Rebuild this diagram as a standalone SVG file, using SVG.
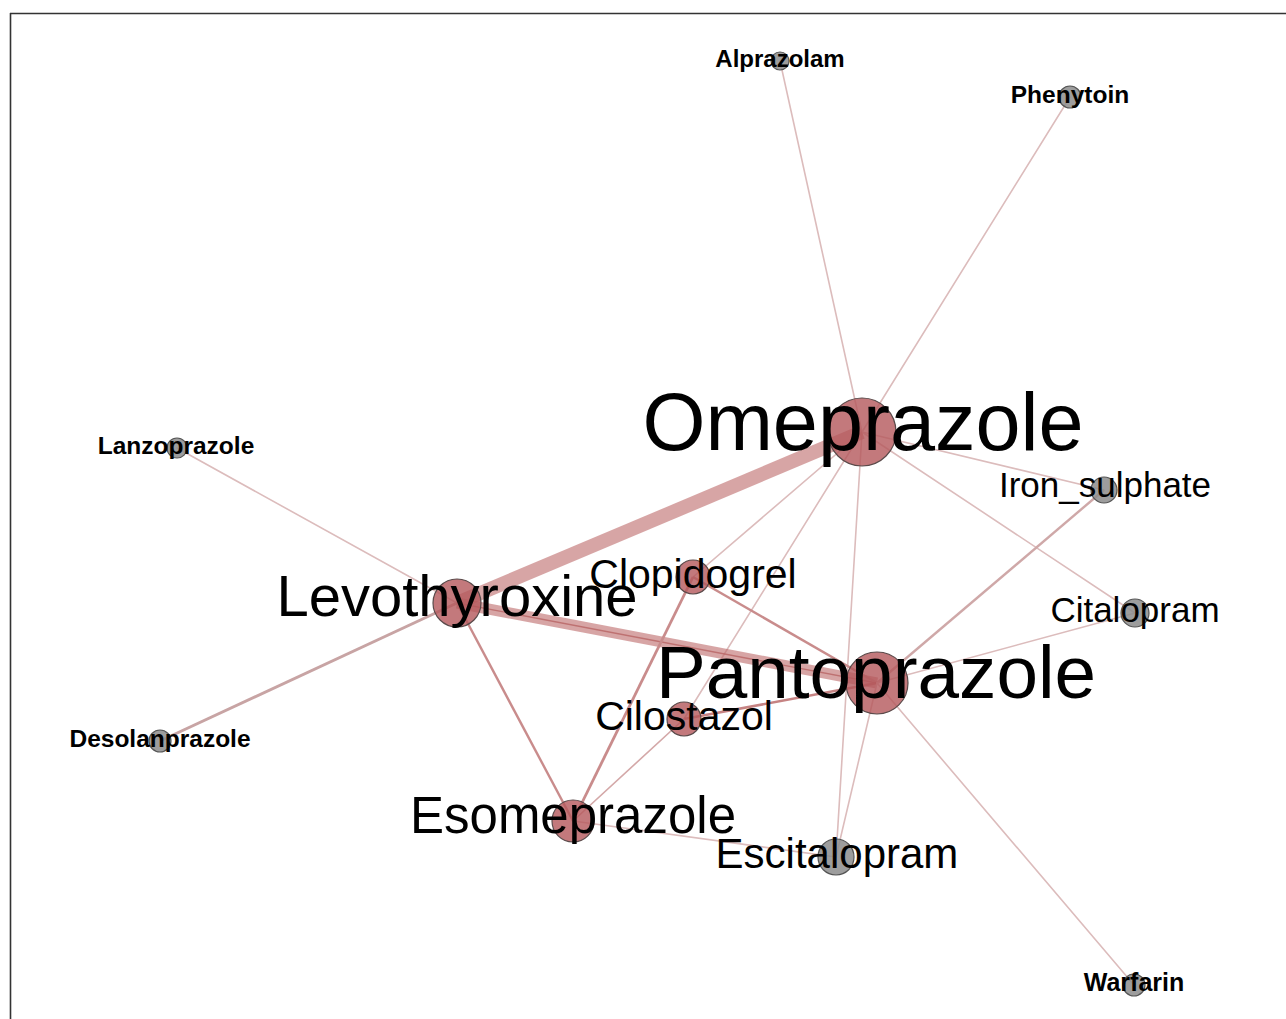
<svg xmlns="http://www.w3.org/2000/svg" width="1286" height="1019" viewBox="0 0 1286 1019">
<style>
.e{stroke:#dcbcbc;stroke-width:1.6;fill:none;stroke-linecap:round}
.em{stroke:#c98c8c;stroke-width:2.4;fill:none}
.ed{stroke:#b86464;stroke-width:2.6;fill:none;opacity:.8}
.et{stroke:#bf6e6e;fill:none;opacity:.62}
.nr{fill:#b4585b;fill-opacity:.8;stroke:#5a4a4a;stroke-width:1.2}
.ng{fill:#8c8c8c;fill-opacity:.85;stroke:#555;stroke-width:1.2}
text{font-family:"Liberation Sans",Arial,sans-serif;fill:#000;text-anchor:middle}
.b{font-weight:bold}
</style>
<rect x="0" y="0" width="1286" height="1019" fill="#fff"/>
<g id="frame">
<line x1="10" y1="13.5" x2="1286" y2="13.5" stroke="#333" stroke-width="1.6"/>
<line x1="10.5" y1="13" x2="10.5" y2="1019" stroke="#333" stroke-width="1.6"/>
</g>
<g id="edges">
<line class="e" x1="780" y1="61" x2="862" y2="432"/>
<line class="e" x1="1070" y1="97" x2="862" y2="432"/>
<line class="e" x1="862" y1="432" x2="1104" y2="490"/>
<line class="e" x1="862" y1="432" x2="1135" y2="613"/>
<line class="e" x1="862" y1="432" x2="693" y2="577"/>
<line class="e" x1="862" y1="432" x2="684" y2="719"/>
<line class="e" x1="862" y1="432" x2="836" y2="857"/>
<line class="e" x1="177" y1="448" x2="457" y2="603"/>
<line class="em" x1="160" y1="741" x2="457" y2="603" style="stroke:#c8a4a4;stroke-width:3"/>
<line class="et" x1="457" y1="603" x2="862" y2="432" stroke-width="14"/>
<line class="et" x1="457" y1="603" x2="877" y2="683" stroke-width="11"/>
<line class="ed" x1="457" y1="603" x2="877" y2="683" style="stroke-width:1.4"/>
<line class="em" x1="457" y1="603" x2="573" y2="821"/>
<line class="em" x1="693" y1="577" x2="877" y2="683"/>
<line class="em" x1="693" y1="577" x2="573" y2="821" style="stroke-width:2.8"/>
<line class="ed" x1="684" y1="719" x2="877" y2="683"/>
<line class="e" x1="684" y1="719" x2="573" y2="821" style="stroke:#d4a8a8"/>
<line class="e" x1="573" y1="821" x2="836" y2="857"/>
<line class="em" x1="877" y1="683" x2="1104" y2="490" style="stroke:#cfa8a8"/>
<line class="e" x1="877" y1="683" x2="1135" y2="613"/>
<line class="e" x1="877" y1="683" x2="1134" y2="985"/>
<line class="e" x1="877" y1="683" x2="836" y2="857"/>
</g>
<g id="n-alprazolam"><circle class="ng" cx="780" cy="61" r="9"/><text class="b" x="780" y="67" font-size="24">Alprazolam</text></g>
<g id="n-phenytoin"><circle class="ng" cx="1070" cy="97" r="11"/><text class="b" x="1070" y="103" font-size="24.5">Phenytoin</text></g>
<g id="n-omeprazole"><circle class="nr" cx="862" cy="432" r="34"/><text x="863" y="450" font-size="81">Omeprazole</text></g>
<g id="n-iron"><circle class="ng" cx="1104" cy="490" r="13"/><text x="1105" y="497" font-size="35">Iron_sulphate</text></g>
<g id="n-lanzoprazole"><circle class="ng" cx="177" cy="448" r="10"/><text class="b" x="176" y="454" font-size="24.5">Lanzoprazole</text></g>
<g id="n-levothyroxine"><circle class="nr" cx="457" cy="603" r="24"/><text x="457" y="616" font-size="58">Levothyroxine</text></g>
<g id="n-clopidogrel"><circle class="nr" cx="693" cy="577" r="17"/><text x="693" y="588" font-size="41">Clopidogrel</text></g>
<g id="n-citalopram"><circle class="ng" cx="1135" cy="613" r="14"/><text x="1135" y="622" font-size="35">Citalopram</text></g>
<g id="n-pantoprazole"><circle class="nr" cx="877" cy="683" r="31"/><text x="876" y="698" font-size="74.7">Pantoprazole</text></g>
<g id="n-cilostazol"><circle class="nr" cx="684" cy="719" r="17"/><text x="684" y="730" font-size="41">Cilostazol</text></g>
<g id="n-desolanprazole"><circle class="ng" cx="160" cy="741" r="11"/><text class="b" x="160" y="747" font-size="24.5">Desolanprazole</text></g>
<g id="n-esomeprazole"><circle class="nr" cx="573" cy="821" r="21"/><text x="573" y="833" font-size="51">Esomeprazole</text></g>
<g id="n-escitalopram"><circle class="ng" cx="836" cy="857" r="18"/><text x="837" y="868" font-size="42">Escitalopram</text></g>
<g id="n-warfarin"><circle class="ng" cx="1134" cy="985" r="11"/><text class="b" x="1134" y="991" font-size="25">Warfarin</text></g>
</svg>
